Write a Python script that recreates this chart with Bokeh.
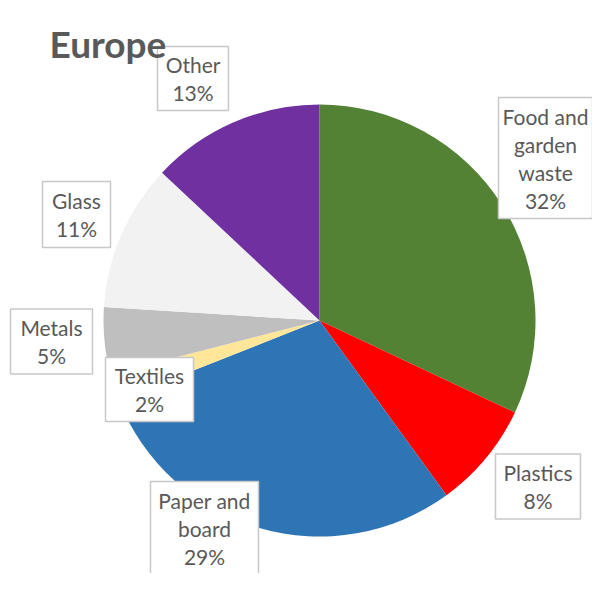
import math
from bokeh.plotting import figure
from bokeh.models import Range1d, ColumnDataSource
from bokeh.core.properties import value
from bokeh.embed import file_html
from bokeh.resources import INLINE

# ---- data ----
categories = ["Food and\ngarden\nwaste", "Plastics", "Paper and\nboard", "Textiles", "Metals", "Glass", "Other"]
shares = [32, 8, 29, 2, 5, 11, 13]
colors = ["#548235", "#FF0000", "#2E75B6", "#FFE699", "#BFBFBF", "#F2F2F2", "#7030A0"]
title_text = "Europe"

# ---- layout (picture pixel coordinates) ----
W, H = 592, 573
TOP = 589
cx, cy, R = 319, 320, 216
# label box centres / sizes
box_cx = [545, 537.5, 204, 149, 51, 76, 192.5]
box_cy = [157.5, 486, 528, 389, 341, 214, 78]
box_w = [94, 85, 108, 88, 82, 68, 71]
box_h = [121, 65, 94, 64, 65, 66, 64]
LINE = 28

def py(y):
    return TOP - y

p = figure(width=W, height=H, output_backend="svg", toolbar_location=None,
           x_range=Range1d(0, W), y_range=Range1d(TOP - H, TOP),
           min_border=0)
p.axis.visible = False
p.grid.visible = False
p.outline_line_color = None
p.background_fill_color = "white"

total = sum(shares)
starts, ends = [], []
cum = 0
for s in shares:
    starts.append(math.pi / 2 - 2 * math.pi * cum / total)
    cum += s
    ends.append(math.pi / 2 - 2 * math.pi * cum / total)

src = ColumnDataSource(dict(x=[cx] * len(shares), y=[py(cy)] * len(shares),
                            start=starts, end=ends, color=colors))
p.wedge(x="x", y="y", radius=R, start_angle="start", end_angle="end",
        direction="clock", fill_color="color", line_color=None, source=src)

# label boxes
p.rect(x=box_cx, y=[py(v) for v in box_cy], width=box_w, height=box_h,
       fill_color="white", line_color="#C8C8C8", line_width=1.5)

# label text, line by line
tx, ty, tt = [], [], []
for name, s, bx, by in zip(categories, shares, box_cx, box_cy):
    lines = name.split("\n") + [f"{s}%"]
    n = len(lines)
    for i, ln in enumerate(lines):
        tx.append(bx)
        ty.append(py(by + (i - (n - 1) / 2) * LINE))
        tt.append(ln)
p.text(x=tx, y=ty, text=tt, text_align="center", text_baseline="middle",
       text_font=value("Lato"), text_font_size="21px", text_color="#595959")

# title
p.text(x=[49], y=[py(43)], text=[title_text], text_align="left", text_baseline="alphabetic",
       text_font=value("Lato"), text_font_size="37px", text_font_style="bold",
       text_color="#595959")

open("out.html", "w").write(file_html(p, INLINE))
